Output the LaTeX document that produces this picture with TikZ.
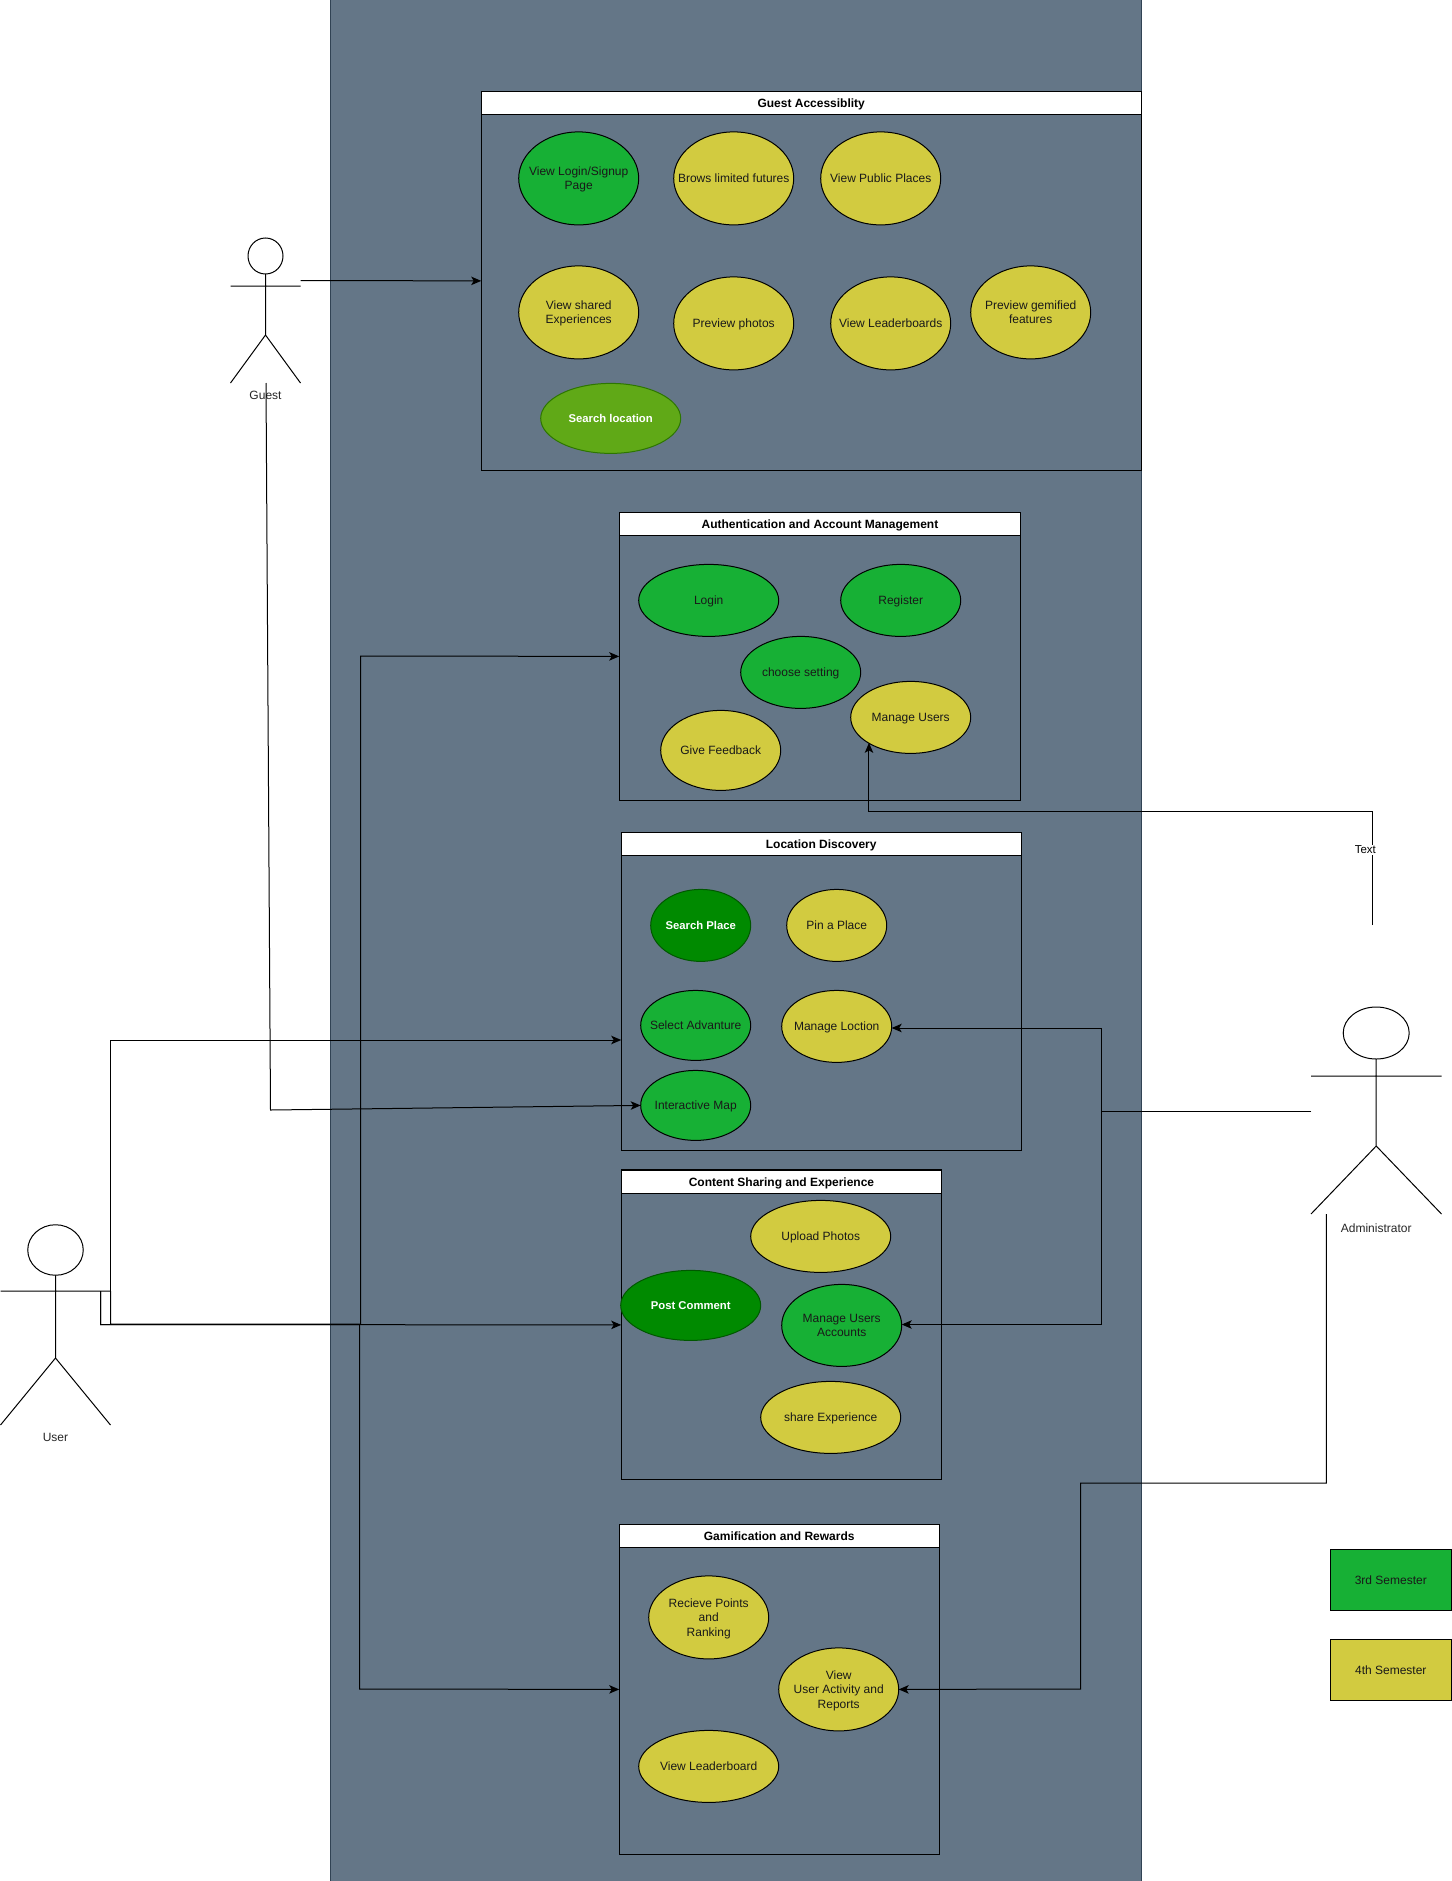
\documentclass[tikz,border=0pt]{standalone}
\usepackage{fontspec}
\setmainfont{Liberation Sans}
\usetikzlibrary{shapes.geometric,arrows.meta}
\definecolor{slatep}{HTML}{647687}
\definecolor{slated}{HTML}{314354}
\definecolor{gA}{HTML}{17B035}
\definecolor{yA}{HTML}{D2CB40}
\definecolor{gB}{HTML}{60A917}
\definecolor{gBd}{HTML}{2D7600}
\definecolor{gC}{HTML}{008A00}
\definecolor{gCd}{HTML}{005700}
\newcommand\sttall{\rule[-3pt]{0pt}{14pt}}
\tikzset{
  base/.style={inner sep=0pt,outer sep=0pt,align=center,font=\fontsize{12}{14.5}\selectfont},
  uc/.style={base,ellipse,draw=black,line width=1pt,inner xsep=-30pt,inner ysep=-15pt,execute at begin node=\sttall},
  multi/.style={text depth=-1pt},
  ucg/.style={uc,fill=gA,text=black!90},
  ucy/.style={uc,fill=yA,text=black!90},
  ucl/.style={uc,fill=gB,draw=gBd,text=white,font=\fontsize{11.3}{14.5}\selectfont\bfseries},
  ucd/.style={uc,fill=gC,draw=gCd,text=white,font=\fontsize{11.3}{14.5}\selectfont\bfseries},
  groupbox/.style={base,draw=black,line width=1pt},
  grouphead/.style={base,draw=black,line width=1pt,fill=white,font=\fontsize{12}{14.5}\selectfont\bfseries,text height=12pt,text depth=2.5pt},
  legendbox/.style={base,draw=black,line width=0.8pt,minimum width=120.5pt,minimum height=60.5pt,text=black!90},
  actorline/.style={draw=black,line width=1pt},
  actorhead/.style={base,ellipse,draw=black,line width=1pt},
  actorlabel/.style={base,text=black!85},
  conn/.style={draw=black,line width=1pt,-{Stealth[length=10pt,width=8.5pt,inset=2.5pt]}},
  plain/.style={draw=black,line width=1pt}
}
\begin{document}
\begin{tikzpicture}[x=1pt,y=-1pt]
\useasboundingbox (0,0) rectangle (1451,1881);
\node[base,draw=slated,fill=slatep,line width=1pt,minimum width=811pt,minimum height=1881pt] (panel) at (735.5,940.5) {};

\begin{scope}[xshift=0.7pt,yshift=-0.4pt]
% groups
\node[groupbox,minimum width=660pt,minimum height=379pt] (guestG) at (810.5,280.5) {};
\node[grouphead,minimum width=660pt,minimum height=23pt] (guestH) at (810.5,102.5) {Guest Accessiblity};
\node[groupbox,minimum width=401.5pt,minimum height=288pt] (authG) at (819.25,656) {};
\node[grouphead,minimum width=401.5pt,minimum height=23pt] (authH) at (819.25,523.5) {Authentication and Account Management};
\node[groupbox,minimum width=400pt,minimum height=318pt] (locG) at (820.5,991) {};
\node[grouphead,minimum width=400pt,minimum height=23pt] (locH) at (820.5,843.5) {Location Discovery};
\node[groupbox,minimum width=320.5pt,minimum height=310pt] (contG) at (780.75,1324.5) {};
\node[grouphead,minimum width=320.5pt,minimum height=23pt] (contH) at (780.75,1181.5) {Content Sharing and Experience};
\node[groupbox,minimum width=320pt,minimum height=330pt] (gameG) at (778.5,1689) {};
\node[grouphead,minimum width=320pt,minimum height=23pt] (gameH) at (778.5,1535.5) {Gamification and Rewards};

% guest use cases
\node[ucg,multi,minimum width=120pt,minimum height=93pt] (g1) at (578,178) {View Login/Signup\\Page};
\node[ucy,minimum width=120pt,minimum height=93pt] (g2) at (733,178) {Brows limited futures};
\node[ucy,minimum width=120pt,minimum height=93pt] (g3) at (880,178) {View Public Places};
\node[ucy,multi,minimum width=120pt,minimum height=93pt] (g4) at (578,312) {View shared\\Experiences};
\node[ucy,minimum width=120pt,minimum height=93pt] (g5) at (733,323) {Preview photos};
\node[ucy,minimum width=120pt,minimum height=93pt] (g6) at (890,323) {View Leaderboards};
\node[ucy,multi,minimum width=120pt,minimum height=93pt] (g7) at (1030,312) {Preview gemified\\features};
\node[ucl,minimum width=140pt,minimum height=70pt] (g8) at (610,418) {Search location};

% auth use cases
\node[ucg,minimum width=140pt,minimum height=72pt] (a1) at (708,600) {Login};
\node[ucg,minimum width=120pt,minimum height=72pt] (a2) at (900,600) {Register};
\node[ucg,minimum width=120pt,minimum height=72pt] (a3) at (800,672) {choose setting};
\node[ucy,minimum width=120pt,minimum height=72pt] (a4) at (910,717) {Manage Users};
\node[ucy,minimum width=120pt,minimum height=80pt] (a5) at (720,750) {Give Feedback};

% location use cases
\node[ucd,minimum width=100pt,minimum height=72pt] (l1) at (700,925) {Search Place};
\node[ucy,minimum width=100pt,minimum height=72pt] (l2) at (836,925) {Pin a Place};
\node[ucg,minimum width=110pt,minimum height=70pt] (l3) at (695,1025) {Select Advanture};
\node[ucy,minimum width=110pt,minimum height=72pt] (l4) at (836,1026) {Manage Loction};
\node[ucg,minimum width=110pt,minimum height=70pt] (l5) at (695,1105) {Interactive Map};

% content use cases
\node[ucy,minimum width=140pt,minimum height=72pt] (c1) at (820,1236) {Upload Photos};
\node[ucd,minimum width=140pt,minimum height=70pt] (c2) at (690,1305) {Post Comment};
\node[ucg,multi,minimum width=120pt,minimum height=82pt] (c3) at (841,1325) {Manage Users\\Accounts};
\node[ucy,minimum width=140pt,minimum height=72pt] (c4) at (830,1417) {share Experience};

% gamification use cases
\node[ucy,multi,minimum width=120pt,minimum height=83pt] (r1) at (708,1617) {Recieve Points\\and\\Ranking};
\node[ucy,multi,minimum width=120pt,minimum height=83pt] (r2) at (838,1689) {View\\User Activity and\\Reports};
\node[ucy,minimum width=140pt,minimum height=72pt] (r3) at (708,1766) {View Leaderboard};
\end{scope}

% legend
\node[legendbox,fill=gA] (leg3) at (1390.8,1580) {3rd Semester};
\node[legendbox,fill=yA] (leg4) at (1390.8,1670) {4th Semester};

% actors
\node[actorhead,minimum width=35pt,minimum height=36pt] (guestHead) at (265.5,256) {};
\coordinate (guestHip) at (265.5,335);
\coordinate (guestArmL) at (230.5,286);
\coordinate (guestArmR) at (300.5,286);
\coordinate (guestFootL) at (230.5,383);
\coordinate (guestFootR) at (300.5,383);
\coordinate (guestFootM) at (266,383);
\coordinate (guestOut) at (300.5,280.5);
\draw[actorline] (guestHead.south) -- (guestHip) (guestArmL) -- (guestArmR) (guestFootL) -- (guestHip) -- (guestFootR);
\node[actorlabel] (guestLabel) at (265.5,395.5) {Guest};

\node[actorhead,minimum width=55.5pt,minimum height=50.5pt] (userHead) at (55.5,1250) {};
\coordinate (userHip) at (55.5,1358);
\coordinate (userArmL) at (0.5,1291);
\coordinate (userArmR) at (110.5,1291);
\coordinate (userArmB) at (100.5,1291);
\coordinate (userFootL) at (0.5,1425);
\coordinate (userFootR) at (110.5,1425);
\draw[actorline] (userHead.south) -- (userHip) (userArmL) -- (userArmR) (userFootL) -- (userHip) -- (userFootR);
\node[actorlabel] (userLabel) at (55.5,1437) {User};

\node[actorhead,minimum width=66pt,minimum height=52pt] (adminHead) at (1376.2,1033) {};
\coordinate (adminHip) at (1376.2,1146);
\coordinate (adminArmL) at (1311,1076);
\coordinate (adminArmR) at (1441.5,1076);
\coordinate (adminFootL) at (1311,1214);
\coordinate (adminFootR) at (1441.5,1214);
\coordinate (adminOut) at (1311,1111);
\coordinate (adminFootB) at (1326.3,1214);
\coordinate (adminFree) at (1372.3,925);
\draw[actorline] (adminHead.south) -- (adminHip) (adminArmL) -- (adminArmR) (adminFootL) -- (adminHip) -- (adminFootR);
\node[actorlabel] (adminLabel) at (1376.2,1228) {Administrator};

% connectors
\draw[conn] (guestOut) -- (guestG.west);
\draw[conn] (guestFootM) -- (270.5,1110) -- (l5.west);
\draw[conn] (userArmR) -- (110.5,1040) -- (locG.west |- 0,1040);
\draw[conn] (userArmB) -- (100.5,1324.5) -- (contG.west);
\draw[conn] (userArmR) -- (110.5,1324) -- (360.5,1324) -- (360.5,656) -- (authG.west);
\draw[conn] (userArmB) -- (100.5,1324.5) -- (359.5,1324.5) -- (359.5,1689) -- (gameG.west);
\draw[conn] (adminFree) -- (1372.3,811.5) -- ([xshift=0.7pt]a4.south west |- 0,811.5) -- ([xshift=0.7pt]a4.south west);
\draw[conn] (adminOut) -- (1101,1111) -- (1101,1028) -- (l4.east |- 0,1028);
\draw[conn] (adminOut) -- (1101,1111) -- (1101,1324.5) -- (c3.east |- 0,1324.5);
\draw[conn] (adminFootB) -- (1326.3,1483) -- (1080.5,1483) -- (1080.5,1689) -- (r2.east);
\node[base,fill=white,inner sep=1pt] (connText) at (1365.3,850) {\fontsize{11.5}{13}\selectfont Text};
\end{tikzpicture}
\end{document}
